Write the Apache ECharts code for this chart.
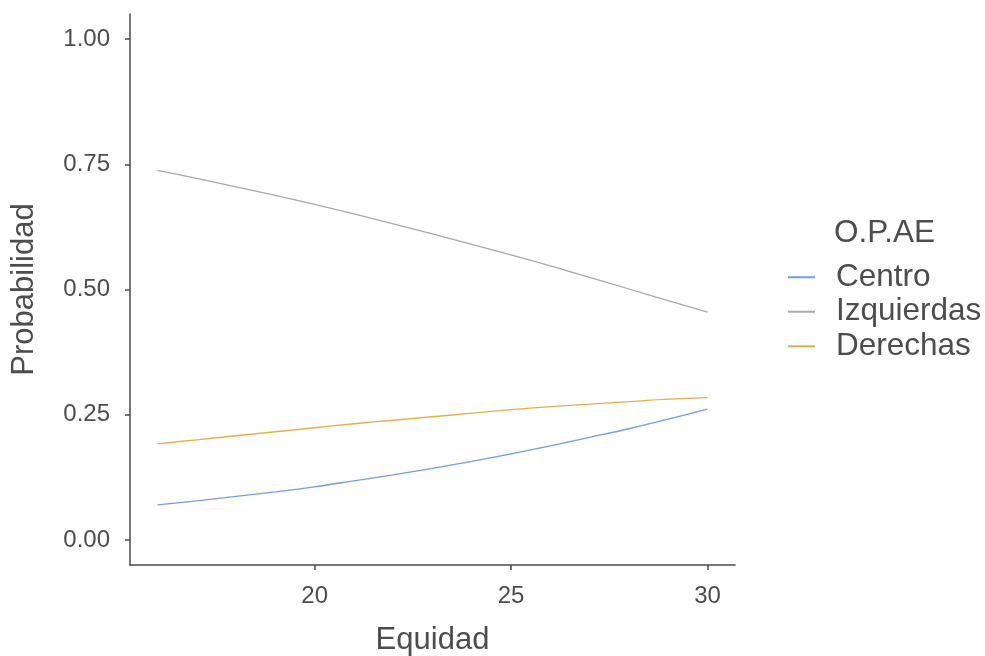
<!DOCTYPE html>
<html>
<head>
<meta charset="utf-8">
<script src="https://cdn.jsdelivr.net/npm/echarts@6/dist/echarts.min.js"></script>
<style>html,body{margin:0;padding:0;background:#fff;}#c{width:985px;height:656px;}</style>
</head>
<body>
<div id="c"></div>
<script>
const equidad = [16,17,18,19,20,21,22,23,24,25,26,27,28,29,30];
const centro = [0.070,0.078,0.087,0.096,0.106,0.118,0.130,0.143,0.157,0.172,0.188,0.205,0.222,0.241,0.261];
const izquierdas = [0.738,0.722,0.705,0.688,0.670,0.651,0.631,0.611,0.590,0.569,0.547,0.524,0.501,0.478,0.455];
const derechas = [0.192,0.200,0.208,0.216,0.224,0.232,0.239,0.246,0.253,0.260,0.266,0.271,0.276,0.281,0.284];
const xTicks = [20,25,30];
const yTicks = [0,0.25,0.5,0.75,1];
const seriesNames = ['Centro','Izquierdas','Derechas'];
const legendTitle = 'O.P.AE';

const colors = ['#6F9CEB','#A8A8A8','#E6AD4C'];
const txt = '#4D4D4D';
const axisCol = '#4a4a4a';
const font = 'Liberation Sans, Arial, sans-serif';

function pairs(ys){ return equidad.map((x,i)=>[x,ys[i]]); }
const data = [centro, izquierdas, derechas];

const chart = echarts.init(document.getElementById('c'));
chart.setOption({
  animation:false,
  backgroundColor:'#fff',
  grid:{left:130,right:250,top:14,bottom:91,containLabel:false,outerBoundsMode:'none'},
  xAxis:{
    type:'value',min:15.3,max:30.7,
    name:'Equidad',nameLocation:'middle',nameGap:60,
    nameTextStyle:{fontSize:31,color:txt,fontFamily:font},
    axisLine:{show:true,onZero:false,lineStyle:{color:axisCol,width:1.5}},
    axisTick:{show:true,length:5,inside:false,customValues:xTicks,lineStyle:{color:axisCol,width:1.5}},
    axisLabel:{customValues:xTicks,fontSize:24,color:txt,fontFamily:font,margin:19},
    splitLine:{show:false}
  },
  yAxis:{
    type:'value',min:-0.05,max:1.05,
    name:'Probabilidad',nameLocation:'middle',nameGap:90,
    nameTextStyle:{fontSize:31,color:txt,fontFamily:font},
    axisLine:{show:true,onZero:false,lineStyle:{color:axisCol,width:1.5}},
    axisTick:{show:true,length:5,inside:false,customValues:yTicks,lineStyle:{color:axisCol,width:1.5}},
    axisLabel:{customValues:yTicks,fontSize:24,color:txt,fontFamily:font,margin:20,formatter:v=>v.toFixed(2)},
    splitLine:{show:false}
  },
  legend:{
    orient:'vertical',left:788,top:260,padding:0,itemGap:0,
    icon:'rect',itemWidth:27,itemHeight:2,
    textStyle:{fontSize:31.5,color:txt,fontFamily:font,lineHeight:34.5,padding:[0,0,0,16]},
    data:seriesNames
  },
  graphic:[{type:'text',left:834,top:217,style:{text:legendTitle,fontSize:31.5,fill:txt,fontFamily:font}}],
  series:seriesNames.map((n,i)=>({
    name:n,type:'line',data:pairs(data[i]),showSymbol:false,smooth:0.3,
    lineStyle:{color:colors[i],width:1.3},itemStyle:{color:colors[i]}
  }))
});
</script>
</body>
</html>
